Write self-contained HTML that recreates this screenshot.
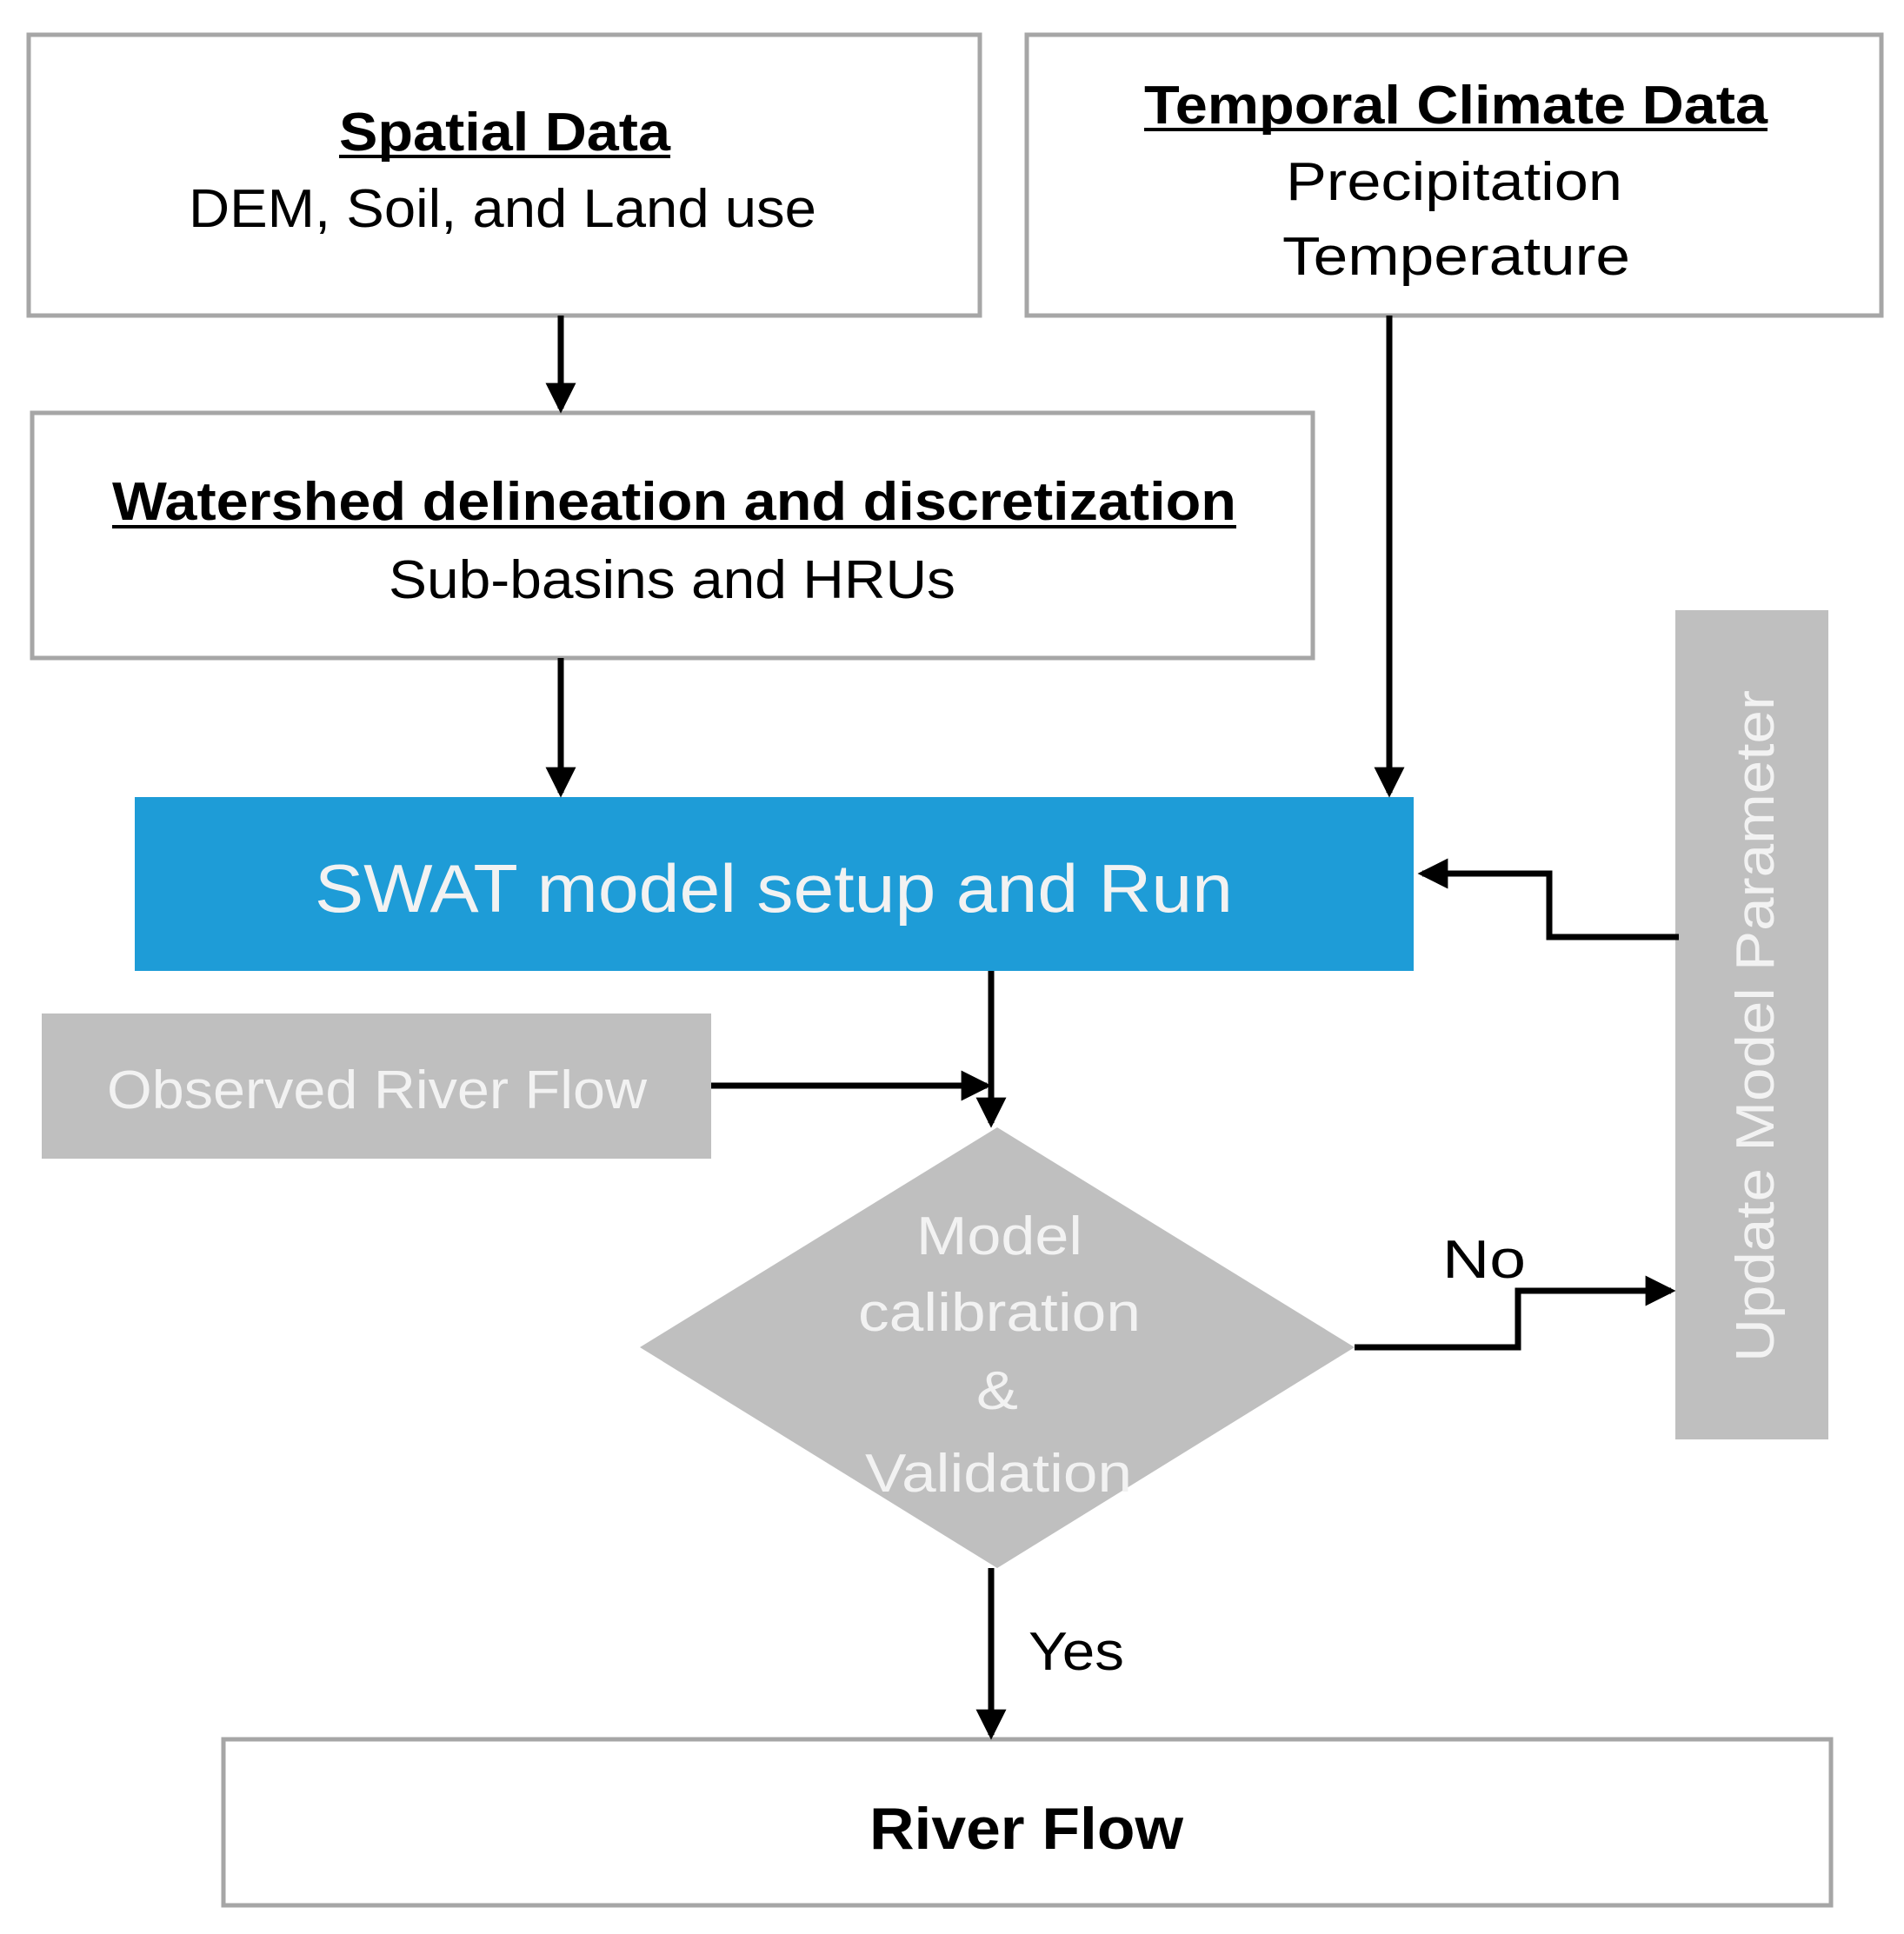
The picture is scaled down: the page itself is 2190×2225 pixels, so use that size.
<!DOCTYPE html>
<html><head><meta charset="utf-8"><style>html,body{margin:0;padding:0;background:#fff}svg{display:block}</style></head>
<body>
<svg width="2190" height="2225" viewBox="0 0 2190 2225" xmlns="http://www.w3.org/2000/svg" font-family="Liberation Sans, sans-serif">
<defs>
<marker id="ah" markerWidth="5" markerHeight="5" refX="4.2" refY="2.5" orient="auto" markerUnits="strokeWidth"><path d="M0,0 L5,2.5 L0,5 z" fill="#000"/></marker>
</defs>
<g fill="#fff" stroke="#a6a6a6" stroke-width="5">
<rect x="33" y="40" width="1094" height="323"/>
<rect x="1181" y="40" width="983" height="323"/>
<rect x="37" y="475" width="1473" height="282"/>
<rect x="257" y="2001" width="1849" height="191"/>
</g>
<rect x="155" y="917" width="1471" height="200" fill="#1e9cd7"/>
<rect x="48" y="1166" width="770" height="167" fill="#bfbfbf"/>
<rect x="1927" y="702" width="176" height="954" fill="#bfbfbf"/>
<polygon points="736,1550 1147,1297 1558,1550 1147,1804" fill="#bfbfbf"/>
<g stroke="#000" stroke-width="7" fill="none" marker-end="url(#ah)">
<line x1="645" y1="363" x2="645" y2="470"/>
<line x1="645" y1="757" x2="645" y2="912"/>
<line x1="1598" y1="363" x2="1598" y2="912"/>
<polyline points="1931,1078 1782,1078 1782,1005 1636,1005"/>
<line x1="1140" y1="1117" x2="1140" y2="1292"/>
<line x1="818" y1="1249" x2="1135" y2="1249"/>
<polyline points="1558,1550 1746,1550 1746,1485 1922,1485"/>
<line x1="1140" y1="1804" x2="1140" y2="1996"/>
</g>
<g font-size="62" fill="#000">
<text x="390" y="173" textLength="381" lengthAdjust="spacingAndGlyphs" font-weight="bold">Spatial Data</text>
<line x1="390" y1="180" x2="771" y2="180" stroke="#000" stroke-width="4"/>
<text x="217" y="261" textLength="722" lengthAdjust="spacingAndGlyphs">DEM, Soil, and Land use</text>
<text x="1316" y="142" textLength="717" lengthAdjust="spacingAndGlyphs" font-weight="bold">Temporal Climate Data</text>
<line x1="1316" y1="149" x2="2033" y2="149" stroke="#000" stroke-width="4"/>
<text x="1479" y="230" textLength="387" lengthAdjust="spacingAndGlyphs">Precipitation</text>
<text x="1475" y="316" textLength="400" lengthAdjust="spacingAndGlyphs">Temperature</text>
<text x="129" y="598" textLength="1293" lengthAdjust="spacingAndGlyphs" font-weight="bold">Watershed delineation and discretization</text>
<line x1="129" y1="606" x2="1422" y2="606" stroke="#000" stroke-width="4"/>
<text x="447" y="688" textLength="652" lengthAdjust="spacingAndGlyphs">Sub-basins and HRUs</text>
<text x="1659" y="1470" textLength="96" lengthAdjust="spacingAndGlyphs">No</text>
<text x="1183" y="1921" textLength="110" lengthAdjust="spacingAndGlyphs">Yes</text>
<text x="1000" y="2127" textLength="361" lengthAdjust="spacingAndGlyphs" font-weight="bold" font-size="68">River Flow</text>
</g>
<g font-size="62" fill="#f2f2f2">
<text x="362" y="1049" textLength="1056" lengthAdjust="spacingAndGlyphs" font-size="78">SWAT model setup and Run</text>
<text x="123" y="1275" textLength="621" lengthAdjust="spacingAndGlyphs">Observed River Flow</text>
<text x="1054" y="1443" textLength="191" lengthAdjust="spacingAndGlyphs">Model</text>
<text x="987" y="1531" textLength="325" lengthAdjust="spacingAndGlyphs">calibration</text>
<text x="1123" y="1621" textLength="48" lengthAdjust="spacingAndGlyphs">&amp;</text>
<text x="995" y="1716" textLength="307" lengthAdjust="spacingAndGlyphs">Validation</text>
<text transform="translate(2040,1567) rotate(-90)" textLength="773" lengthAdjust="spacingAndGlyphs">Update Model Parameter</text>
</g>
</svg>
</body></html>
